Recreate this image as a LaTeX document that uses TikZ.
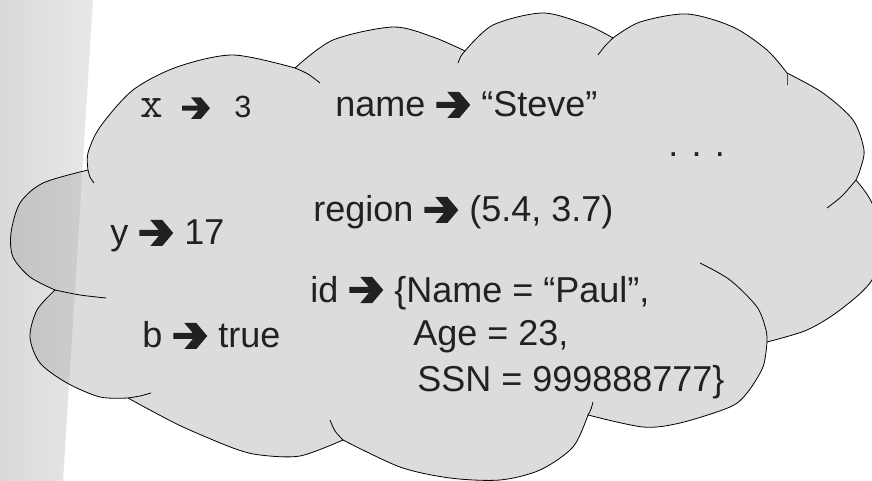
\documentclass[tikz,border=0pt]{standalone}
\usepackage{fontspec}
\setmainfont{Liberation Sans}
\definecolor{bandL}{gray}{0.85}
\definecolor{bandR}{gray}{0.91}
\definecolor{puffgray}{gray}{0.863}
\definecolor{overL}{gray}{0.76}
\definecolor{overR}{gray}{0.81}
\definecolor{ink}{gray}{0.13}
% heavy arrow used between a name and its value
\newcommand{\rarr}{\tikz[baseline=0pt,x=0.75pt,y=0.75pt]{%
  \useasboundingbox (-1,0) rectangle (35,25);
  \fill[ink] (0,9) -- (19.5,9) -- (11,-1) -- (23,-1) -- (34,12) -- (23,25)
    -- (11,25) -- (19.5,15) -- (0,15) -- cycle;}}

\begin{document}
\begin{tikzpicture}[x=0.75pt,y=-0.75pt,
  spur/.style={draw=black,line width=0.6pt},
  lbl/.style={anchor=base west,inner sep=0pt,text=ink,font=\fontsize{27}{32}\selectfont},
  mono/.style={anchor=base west,inner sep=0pt,text=ink,font=\ttfamily\fontsize{33}{36}\selectfont}]
\useasboundingbox (0,0) rectangle (872,481);
\clip (0,0) rectangle (872,481);
% slide band on the left
\shade[left color=bandL,right color=bandR] (0,0) -- (93,0) -- (63,481) -- (0,481) -- cycle;
% cloud outline, lobe by lobe
\path[save path=\puffpath] plot[smooth] coordinates {(88,170) (88,153) (100,127) (133,90) (177,67) (233,55) (295,68)}
  -- plot[smooth] coordinates {(295,68) (333,40) (393,27) (433,37) (465,51)}
  -- plot[smooth] coordinates {(465,51) (493,25) (543,13) (587,25) (613,38)}
  -- plot[smooth] coordinates {(613,38) (640,22) (687,14) (733,27) (767,50) (787,73)}
  -- plot[smooth] coordinates {(787,73) (823,93) (853,120) (864,150) (860,170) (856,180)}
  -- plot[smooth] coordinates {(856,180) (872,203) (880,240) (872,280) (840,310) (807,330) (767,342)}
  -- plot[smooth] coordinates {(767,342) (763,367) (747,393) (730,407) (680,423) (643,427) (588,415)}
  -- plot[smooth] coordinates {(588,415) (573,447) (540,470) (500,480) (450,478) (400,467) (343,440)}
  -- plot[smooth] coordinates {(343,440) (300,456) (260,455) (233,448) (183,427) (150,410) (128,398)}
  -- plot[smooth] coordinates {(128,398) (100,397) (67,383) (40,363) (30,337) (37,310) (55,290)}
  -- plot[smooth] coordinates {(55,290) (30,277) (13,257) (11,233) (20,203) (43,183) (88,170)}
  -- cycle;
\fill[puffgray,use path=\puffpath];
\begin{scope}
  \clip[use path=\puffpath];
  \shade[left color=overL,right color=overR] (0,0) -- (93,0) -- (63,481) -- (0,481) -- cycle;
\end{scope}
\draw[black,line width=0.6pt,line join=round,use path=\puffpath];
% short tails where the lobes cross
\draw[spur] plot[smooth] coordinates {(88,170) (90,177) (94,183)};
\draw[spur] plot[smooth] coordinates {(295,68) (308,74) (320,83)};
\draw[spur] plot[smooth] coordinates {(465,51) (461,56) (458,63)};
\draw[spur] plot[smooth] coordinates {(613,38) (605,46) (598,55)};
\draw[spur] plot[smooth] coordinates {(787,73) (787,79) (787,85)};
\draw[spur] plot[smooth] coordinates {(856,180) (842,196) (827,208)};
\draw[spur] plot[smooth] coordinates {(767,342) (766,330) (757,307) (730,280) (700,263)};
\draw[spur] plot[smooth] coordinates {(588,415) (591,409) (593,402)};
\draw[spur] plot[smooth] coordinates {(343,440) (335,431) (330,420)};
\draw[spur] plot[smooth] coordinates {(128,398) (140,396) (151,393)};
\draw[spur] plot[smooth] coordinates {(55,290) (80,295) (106,298)};
% bindings
\node[mono] (xkey) at (140,118) {x};
\node[lbl] (xarr) at (181,118) {\scalebox{0.82}{\rarr}};
\node[lbl,font=\fontsize{23}{26}\selectfont] (xval) at (234,118) {3};
\node[lbl] (name) at (335,117) {name \rarr{} “Steve”};
\node[lbl] (dots) at (668,157) {. . .};
\node[lbl] (region) at (313,222) {region \rarr{} (5.4, 3.7)};
\node[lbl] (yvar) at (110,245) {y \rarr{} 17};
\node[lbl] (bvar) at (142,348) {b \rarr{} true};
\node[lbl] (id) at (310,302) {id \rarr{} \{Name = “Paul”,};
\node[lbl] (age) at (413,345) {Age = 23,};
\node[lbl] (ssn) at (417,392) {SSN = 999888777\}};
\end{tikzpicture}
\end{document}
